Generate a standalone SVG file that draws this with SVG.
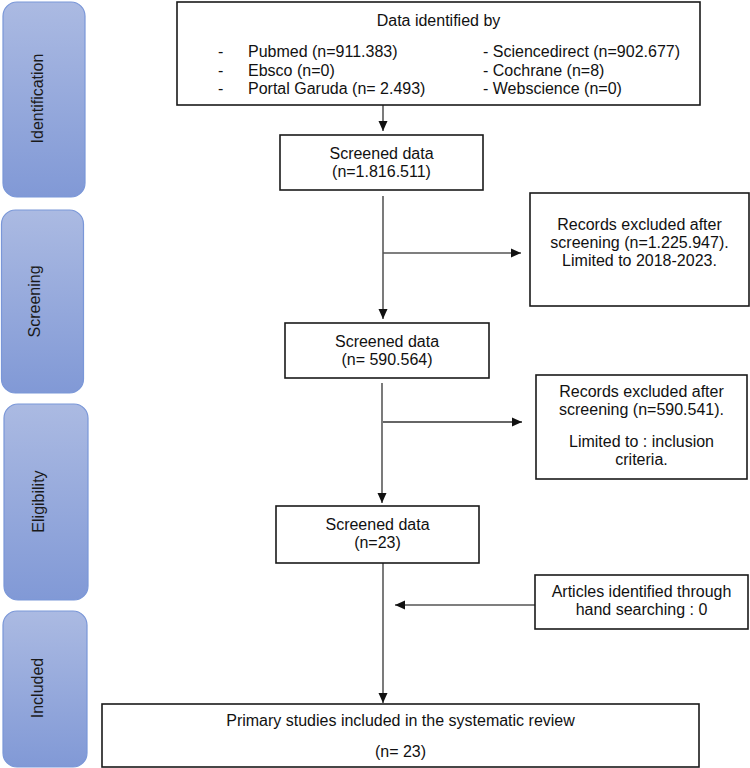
<svg xmlns="http://www.w3.org/2000/svg" width="750" height="768" viewBox="0 0 750 768">
<defs>
<linearGradient id="phaseGrad" x1="0" y1="0" x2="0" y2="1">
<stop offset="0" stop-color="#abbae2"/>
<stop offset="1" stop-color="#8199d6"/>
</linearGradient>
<marker id="arrow" viewBox="0 0 10 10" refX="10" refY="5" markerWidth="10" markerHeight="10" markerUnits="userSpaceOnUse" orient="auto">
<path d="M0,0.5 L10,5 L0,9.5 Z" fill="#111"/>
</marker>
</defs>
<style>
.phase { fill: url(#phaseGrad); stroke: #7a97d8; stroke-width: 1.2; }
.ptxt { font-family: "Liberation Sans", Arial, sans-serif; font-size: 16px; fill: #1a1a1a; text-anchor: middle; }
.box { fill: #ffffff; stroke: #1a1a1a; stroke-width: 1.6; }
.txt { font-family: "Liberation Sans", Arial, sans-serif; font-size: 16px; fill: #111; }
.mid { text-anchor: middle; }
.conn { fill: none; stroke: #333; stroke-width: 1.3; marker-end: url(#arrow); }
.conn2 { fill: none; stroke: #555; stroke-width: 1.3; marker-end: url(#arrow); }
</style>
<rect width="750" height="768" fill="#ffffff"/>

<g id="phase-identification">
<rect class="phase" x="3" y="2" width="82" height="195" rx="14"/>
<text class="ptxt" transform="translate(37.8,98.5) rotate(-90)" dy="5.5">Identification</text>
</g>
<g id="phase-screening">
<rect class="phase" x="1.5" y="210" width="82" height="183" rx="14"/>
<text class="ptxt" transform="translate(34.5,301.5) rotate(-90)" dy="5.5">Screening</text>
</g>
<g id="phase-eligibility">
<rect class="phase" x="4" y="404" width="84" height="196" rx="14"/>
<text class="ptxt" transform="translate(38.7,501.5) rotate(-90)" dy="5.5">Eligibility</text>
</g>
<g id="phase-included">
<rect class="phase" x="3" y="611" width="84" height="156" rx="14"/>
<text class="ptxt" transform="translate(37.8,688) rotate(-90)" dy="5.5">Included</text>
</g>

<g id="connectors">
<line class="conn" x1="383" y1="105" x2="383" y2="131"/>
<line class="conn" x1="383" y1="196" x2="383" y2="319"/>
<line class="conn2" x1="383" y1="253" x2="521" y2="253"/>
<line class="conn" x1="382" y1="383" x2="382" y2="503"/>
<line class="conn" x1="383" y1="422" x2="522" y2="422"/>
<line class="conn" x1="383" y1="563" x2="383" y2="703"/>
<line class="conn2" x1="535" y1="605" x2="395" y2="605"/>
</g>

<g id="node-identified">
<rect class="box" x="177" y="2" width="523" height="103"/>
<text class="txt mid" x="438.5" y="26">Data identified by</text>
<text class="txt" x="218" y="57">-</text>
<text class="txt" x="218" y="76">-</text>
<text class="txt" x="218" y="94">-</text>
<text class="txt" x="248" y="57">Pubmed (n=911.383)</text>
<text class="txt" x="248" y="76">Ebsco (n=0)</text>
<text class="txt" x="248" y="94">Portal Garuda (n= 2.493)</text>
<text class="txt" x="483" y="57">- Sciencedirect (n=902.677)</text>
<text class="txt" x="483" y="76">- Cochrane (n=8)</text>
<text class="txt" x="483" y="94">- Webscience (n=0)</text>
</g>

<g id="node-screened1">
<rect class="box" x="280" y="135" width="203" height="55"/>
<text class="txt mid" x="381.5" y="159">Screened data</text>
<text class="txt mid" x="381.5" y="177">(n=1.816.511)</text>
</g>

<g id="node-excluded1">
<rect class="box" x="530" y="193" width="219" height="113"/>
<text class="txt mid" x="639.5" y="230">Records excluded after</text>
<text class="txt mid" x="639.5" y="248">screening (n=1.225.947).</text>
<text class="txt mid" x="639.5" y="266">Limited to 2018-2023.</text>
</g>

<g id="node-screened2">
<rect class="box" x="285" y="323" width="204" height="55"/>
<text class="txt mid" x="387" y="347">Screened data</text>
<text class="txt mid" x="387" y="365">(n= 590.564)</text>
</g>

<g id="node-excluded2">
<rect class="box" x="536" y="375" width="211" height="104"/>
<text class="txt mid" x="641.5" y="397">Records excluded after</text>
<text class="txt mid" x="641.5" y="415">screening (n=590.541).</text>
<text class="txt mid" x="641.5" y="447">Limited to : inclusion</text>
<text class="txt mid" x="641.5" y="465">criteria.</text>
</g>

<g id="node-screened3">
<rect class="box" x="276" y="506" width="203" height="57"/>
<text class="txt mid" x="377.5" y="530">Screened data</text>
<text class="txt mid" x="377.5" y="548">(n=23)</text>
</g>

<g id="node-hand">
<rect class="box" x="535" y="575" width="213" height="54"/>
<text class="txt mid" x="641.5" y="597">Articles identified through</text>
<text class="txt mid" x="641.5" y="615">hand searching : 0</text>
</g>

<g id="node-included">
<rect class="box" x="102" y="704" width="597" height="63"/>
<text class="txt mid" x="400.5" y="726">Primary studies included in the systematic review</text>
<text class="txt mid" x="400.5" y="757">(n= 23)</text>
</g>
</svg>
